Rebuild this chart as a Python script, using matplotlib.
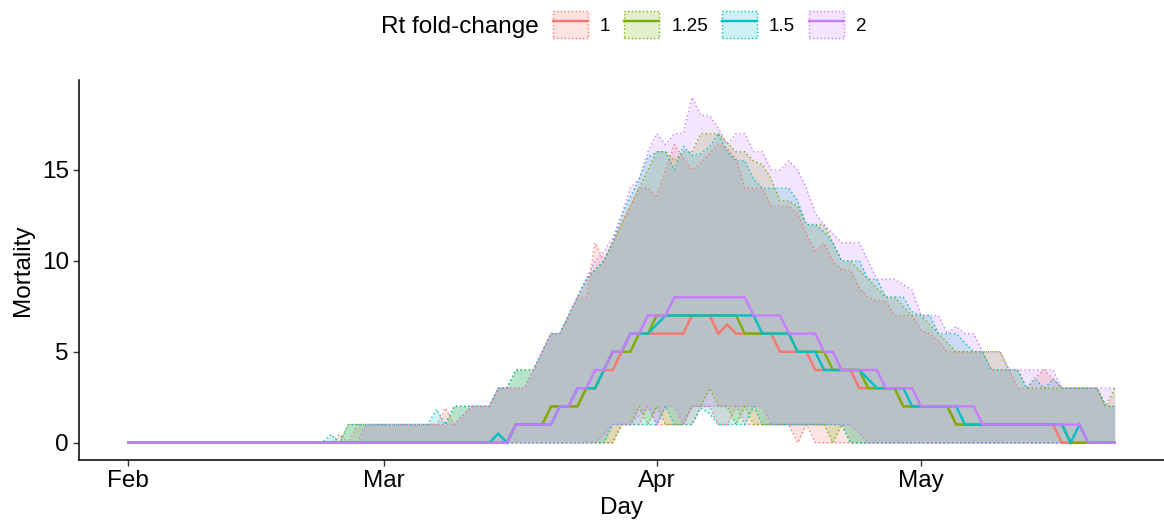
import matplotlib
import matplotlib.pyplot as plt
import pandas as pd
from matplotlib.colors import to_rgba
from matplotlib.legend_handler import HandlerTuple
from matplotlib.lines import Line2D
from matplotlib.patches import Patch

matplotlib.use("Agg")
plt.rcParams["font.family"] = ["Liberation Sans", "DejaVu Sans"]

# daily series, 1 Feb - 23 May 2020
days = pd.date_range("2020-02-01", "2020-05-23", freq="D")
fold_changes = ["1", "1.25", "1.5", "2"]
colors = ["#F8766D", "#7CAE00", "#00BFC4", "#C77CFF"]
month_ticks = pd.to_datetime(["2020-02-01", "2020-03-01", "2020-04-01", "2020-05-01"])
month_labels = ["Feb", "Mar", "Apr", "May"]

# median mortality per fold-change (Feb | Mar | Apr | May)
med_1 = ([0] * 29
         + [0] * 15 + [1, 1, 1, 1, 2, 2, 2, 2, 3, 3, 4, 4, 5, 6, 6, 6]
         + [6, 6, 6, 6, 7, 7, 7, 6, 6.5, 6, 6, 6, 6, 6, 5, 5, 5, 5, 4, 4, 4, 4, 4, 3, 3, 3, 3, 3, 2, 2]
         + [2, 2, 2, 2] + [1] * 12 + [0] * 7)
med_125 = ([0] * 29
           + [0] * 15 + [1, 1, 1, 1, 2, 2, 2, 2, 3, 3, 4, 5, 5, 5, 6, 6]
           + [7] * 10 + [6] * 6 + [5] * 4 + [4] * 4 + [3] * 4 + [2, 2]
           + [2, 2, 2, 2] + [1] * 13 + [0] * 6)
med_15 = ([0] * 29
          + [0] * 13 + [0.5, 0, 1, 1, 1, 1, 1, 2, 2, 3, 3, 3, 4, 5, 5, 6, 6, 6]
          + [6.5] + [7] * 11 + [6] * 4 + [5] * 3 + [4] * 5 + [3.5, 3, 3, 3, 3, 2]
          + [2] * 5 + [1] * 12 + [0, 1, 0, 0, 0, 0])
med_2 = ([0] * 29
         + [0] * 15 + [1, 1, 1, 1, 1, 2, 2, 3, 3, 4, 4, 5, 5, 6, 6, 7]
         + [7, 7] + [8] * 9 + [7] * 4 + [6] * 4 + [5, 5] + [4] * 5 + [3] * 4
         + [2] * 7 + [1] * 12 + [0] * 4)

# upper bound of the interval
up_1 = ([0] * 24 + [0.45, 0, 1, 1, 1]
        + [1] * 7 + [1.9, 1, 1.5, 2, 2, 2, 3, 3, 3, 3, 4, 5, 6, 6, 7, 8, 8, 11, 10, 11, 12, 13, 14, 14]
        + [13.5, 15, 16.4, 15.7, 15, 15.4, 15.9, 16.4, 16.2, 15.6, 14, 14, 14, 13, 13,
           13, 12.6, 11.5, 10.5, 11, 10, 9.5, 9.5, 8.5, 8, 7.8, 7.8, 7, 7, 7]
        + [6.2, 6, 5.6, 5, 5, 5, 5, 5, 4, 4, 4, 3, 3, 3.6, 4, 3.5, 3, 3, 3, 3, 3, 2, 2])
up_125 = ([0] * 25 + [1, 1, 1, 1]
          + [1] * 8 + [2] * 5 + [3, 3, 4, 4, 4, 5, 6, 6, 7, 8, 9, 9.5, 10, 11, 12, 13, 14, 15]
          + [16, 16, 15.5, 16, 16, 17, 17, 17, 16.5, 16, 16, 15.5, 15.3, 14.5, 13.3,
             13.3, 13, 12, 12, 12, 11, 10, 10, 9.5, 9, 8.5, 8, 8, 7.5, 7]
          + [7, 6.5, 6, 5.5, 5, 5, 5, 5, 5, 5, 4, 4, 3, 3, 3, 3, 3, 3, 3, 3, 3, 2, 3])
up_15 = ([0] * 23 + [0.45, 0, 1, 1, 1, 1]
         + [1] * 6 + [1.85, 1] + [2] * 5
         + [3, 3, 4, 4, 4, 5, 6, 6, 7, 8, 9, 9.5, 10, 11, 12.5, 13.5, 14.5, 15.7]
         + [16, 16, 15, 16.3, 15.8, 15.9, 16.3, 17, 16, 15.5, 15.5, 14.5, 14, 14, 14,
            14, 13.3, 12, 12, 11.6, 11, 10, 10, 10, 9, 9, 8, 8, 8, 7.2]
         + [7, 7, 6, 6, 6, 5.5, 5, 5, 4, 4, 4, 4, 3, 3.5, 3, 3.5, 3, 3, 3, 3, 3, 2, 2])
up_2 = ([0] * 27 + [1, 1]
        + [1] * 9 + [1.5, 2, 2, 2, 3, 3, 3, 3, 4, 5, 6, 6, 7, 8, 9, 10, 10.5, 11.3, 12.5, 14, 14.5, 16]
        + [17, 16.4, 17, 17, 19, 18, 18, 17.3, 16.4, 17, 17, 16, 16, 15, 15,
           15.5, 15, 14, 12.6, 12, 11.5, 11, 11, 11, 10, 9, 9, 9, 8.7, 8.4]
        + [7, 7, 7, 6, 6.4, 6, 6, 5, 5, 5, 4, 4, 4, 4, 4, 4, 3, 3, 3, 3, 3, 3, 3])

# lower bound of the interval
lo_1 = ([0] * 29
        + [0] * 27 + [1, 1, 1, 2]
        + [1, 1, 1, 1, 1, 2, 2, 1, 1, 2, 1, 1, 1, 1, 1, 1, 0, 1] + [0] * 12
        + [0] * 23)
lo_125 = ([0] * 29
          + [0] * 27 + [1, 1, 2, 1]
          + [2, 1, 1, 1, 2, 2, 3, 2, 2, 1, 2] + [1] * 9 + [0, 1] + [0] * 8
          + [0] * 23)
lo_15 = ([0] * 29
         + [0] * 26 + [1] * 5
         + [1, 2, 1, 1, 1, 1.9, 1.6, 1, 1, 1, 1, 2] + [1] * 9 + [1, 0] + [0] * 7
         + [0] * 23)
lo_2 = ([0] * 29
        + [0] * 25 + [0.5, 1, 1, 1, 1.5, 2]
        + [1, 2, 2, 1, 2, 2, 2] + [2] * 6 + [1] * 10 + [0.5] + [0] * 6
        + [0] * 23)

medians = [med_1, med_125, med_15, med_2]
uppers = [up_1, up_125, up_15, up_2]
lowers = [lo_1, lo_125, lo_15, lo_2]

W, H = 1164, 523
fig = plt.figure(figsize=(W / 100, H / 100), dpi=100)
ax = fig.add_axes([79 / W, 63 / H, 1085 / W, 380 / H])

dotted = (0, (1, 2))
for lo, up, col in zip(lowers, uppers, colors):
    ax.fill_between(days, lo, up, color=col, alpha=0.2, linewidth=0)
    ax.plot(days, up, color=col, lw=1.0, ls=dotted)
    ax.plot(days, lo, color=col, lw=1.0, ls=dotted)

for med, col in zip(medians, colors):
    ax.plot(days, med, color=col, lw=1.7, solid_joinstyle="miter")

pad = pd.Timedelta(days=5.6)
ax.set_xlim(days[0] - pad, days[-1] + pad)
ax.set_ylim(-0.95, 19.95)
ax.set_xticks(month_ticks)
ax.set_xticklabels(month_labels)
ax.set_yticks([0, 5, 10, 15])

for side in ("top", "right"):
    ax.spines[side].set_visible(False)
for side in ("left", "bottom"):
    ax.spines[side].set_linewidth(1.1)
    ax.spines[side].set_color("black")
ax.tick_params(length=4.3, width=1.0, color="#333333", labelsize=17.5,
               labelcolor="black", pad=3)

ax.set_xlabel("Day", fontsize=17.5, va="center")
ax.xaxis.set_label_coords(0.5, -0.126)
ax.set_ylabel("Mortality", fontsize=17.5, va="center")
ax.yaxis.set_label_coords(-0.052, 0.5)

fig.text(381 / W, 1 - 33 / H, "Rt fold-change", fontsize=17.5, va="baseline", ha="left")
handles = [
    (Patch(facecolor=to_rgba(col, 0.2), edgecolor=col, linestyle=":", linewidth=1.0),
     Line2D([], [], color=col, lw=1.7))
    for col in colors
]
fig.legend(handles, fold_changes, handler_map={tuple: HandlerTuple(ndivide=1)},
           loc="center left", bbox_to_anchor=(553 / W, 1 - 24.5 / H), ncol=4,
           frameon=False, fontsize=13.6, handlelength=1.85, handleheight=1.85,
           handletextpad=0.63, columnspacing=0.75, borderpad=0, borderaxespad=0)

fig.savefig("out.png", dpi=100)
plt.close(fig)
